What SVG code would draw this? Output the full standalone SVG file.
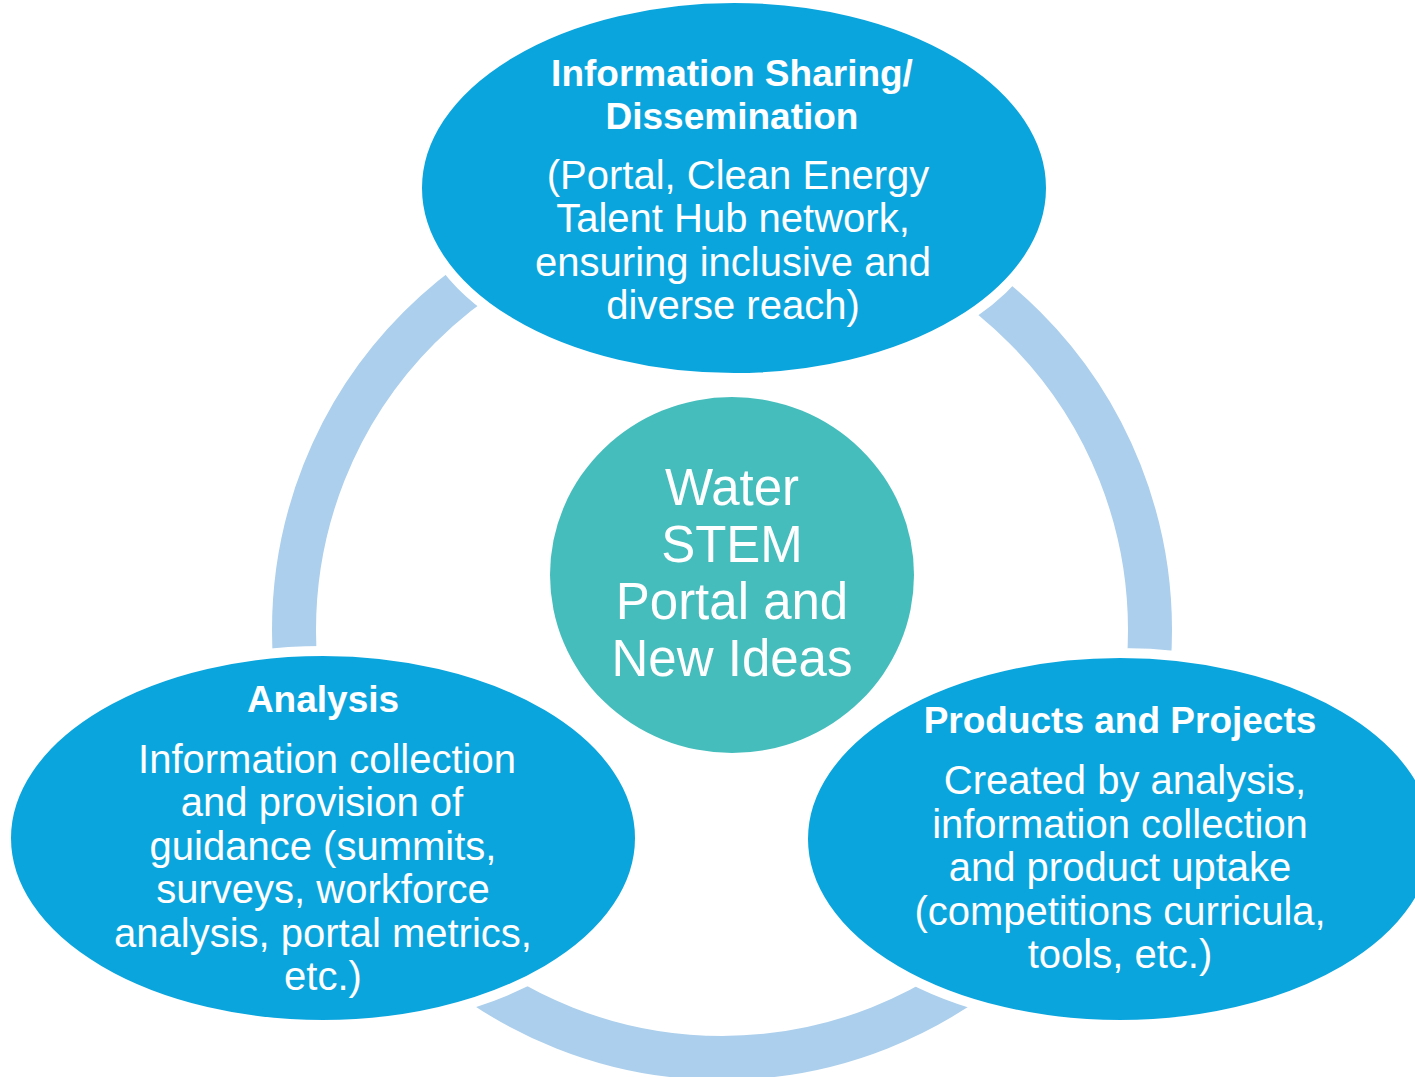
<svg xmlns="http://www.w3.org/2000/svg" width="1415" height="1077" viewBox="0 0 1415 1077">
<style>
.ring{fill:none;stroke:#ABCFEC;stroke-width:44}
.node{fill:#0BA5DE;stroke:#FFFFFF;stroke-width:10}
.hub{fill:#44BDBC}
.t{font-family:"Liberation Sans",Arial,sans-serif;fill:#FFFFFF;text-anchor:middle}
.title{font-size:37px;font-weight:bold}
.body{font-size:40px}
.center{font-size:51px}
</style>
<rect width="1415" height="1077" fill="#FFFFFF"/>
<g id="connectors">
<circle class="ring" cx="722" cy="630" r="428"/>
</g>
<g id="hub">
<ellipse class="hub" cx="732" cy="575" rx="182" ry="178"/>
<text class="t center" x="732" y="505">Water</text>
<text class="t center" x="732" y="562">STEM</text>
<text class="t center" x="732" y="619">Portal and</text>
<text class="t center" x="732" y="676">New Ideas</text>
</g>
<g id="sharing">
<ellipse class="node" cx="734" cy="188" rx="317" ry="190"/>
<text class="t title" x="732" y="86">Information Sharing/</text>
<text class="t title" x="732" y="129">Dissemination</text>
<text class="t body" x="738" y="189">(Portal, Clean Energy</text>
<text class="t body" x="733" y="232">Talent Hub network,</text>
<text class="t body" x="733" y="276">ensuring inclusive and</text>
<text class="t body" x="733" y="319">diverse reach)</text>
</g>
<g id="analysis">
<ellipse class="node" cx="323" cy="838" rx="317" ry="187"/>
<text class="t title" x="323" y="712">Analysis</text>
<text class="t body" x="327" y="773">Information collection</text>
<text class="t body" x="322" y="816">and provision of</text>
<text class="t body" x="323" y="860">guidance (summits,</text>
<text class="t body" x="323" y="903">surveys, workforce</text>
<text class="t body" x="323" y="947">analysis, portal metrics,</text>
<text class="t body" x="323" y="990">etc.)</text>
</g>
<g id="products">
<ellipse class="node" cx="1120" cy="839" rx="317" ry="186"/>
<text class="t title" x="1120" y="733">Products and Projects</text>
<text class="t body" x="1125" y="794">Created by analysis,</text>
<text class="t body" x="1120" y="838">information collection</text>
<text class="t body" x="1120" y="881">and product uptake</text>
<text class="t body" x="1120" y="925">(competitions curricula,</text>
<text class="t body" x="1120" y="968">tools, etc.)</text>
</g>
</svg>
